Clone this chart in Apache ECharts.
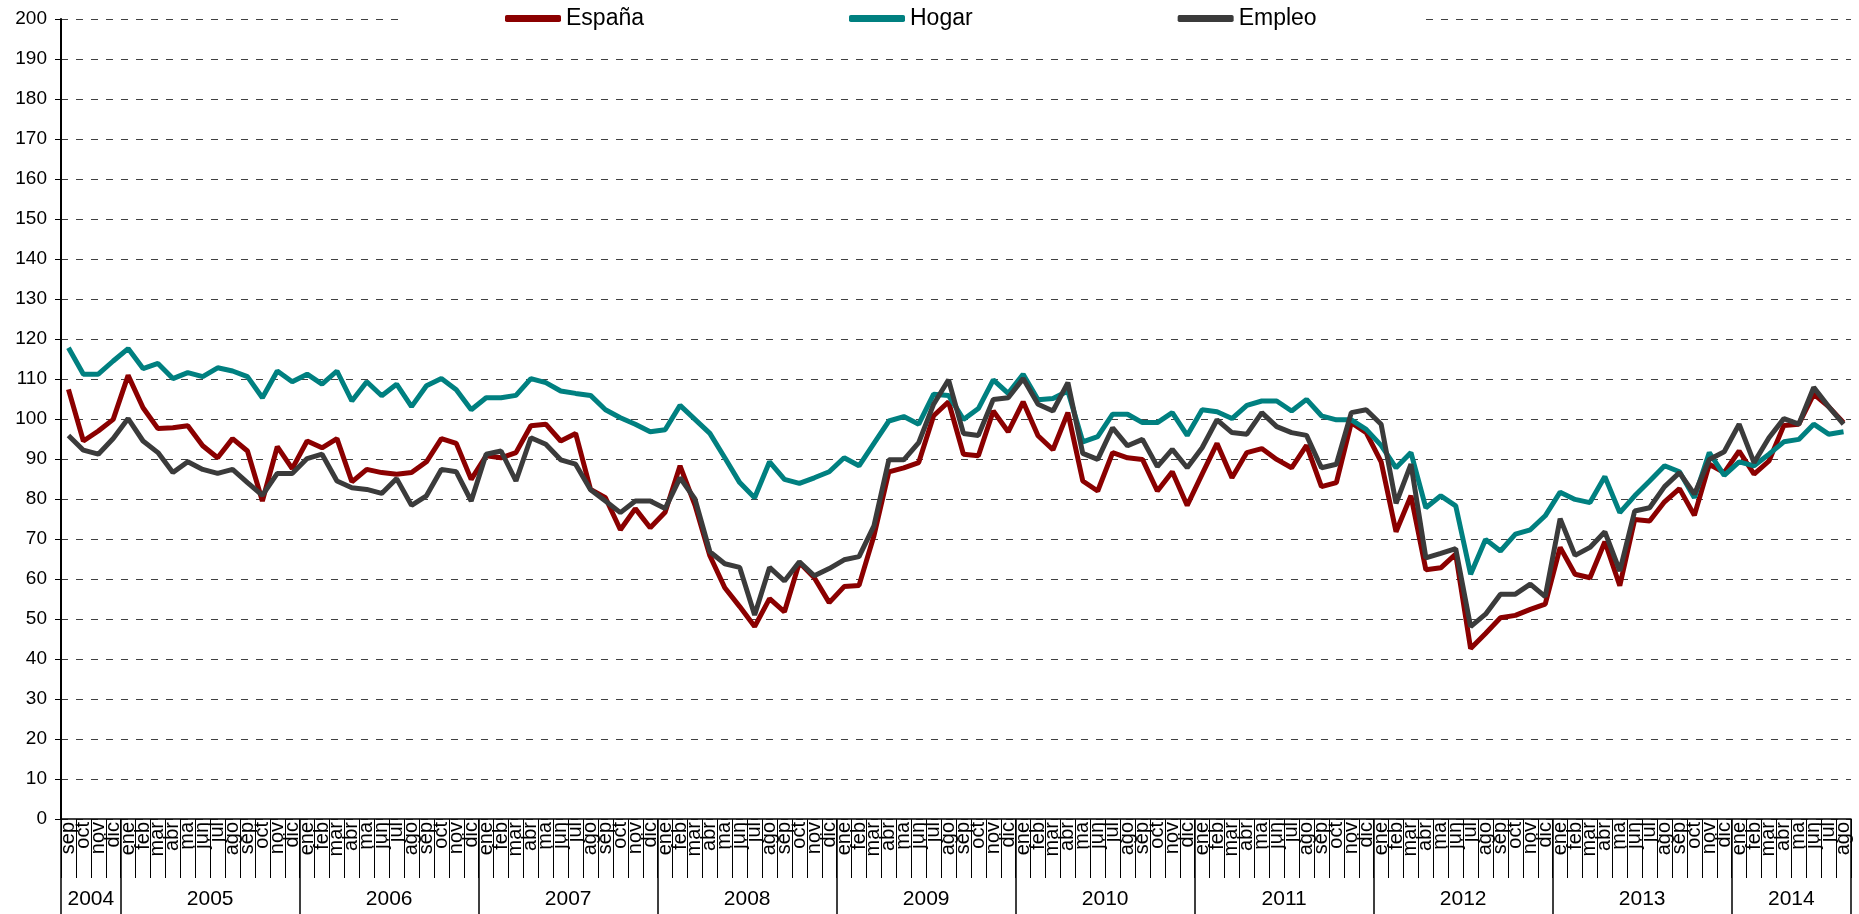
<!DOCTYPE html>
<html>
<head>
<meta charset="utf-8">
<script src="https://cdn.jsdelivr.net/npm/echarts@6/dist/echarts.min.js"></script>
<style>
html,body{margin:0;padding:0;background:#fff;}
#chart{width:1859px;height:914px;}
</style>
</head>
<body>
<div id="chart"></div>
<script>
// Month tick labels (sep 2004 - ago 2014)
const monthLabels = [
 'sep','oct','nov','dic',
 'ene','feb','mar','abr','ma','jun','jul','ago','sep','oct','nov','dic',
 'ene','feb','mar','abr','ma','jun','jul','ago','sep','oct','nov','dic',
 'ene','feb','mar','abr','ma','jun','jul','ago','sep','oct','nov','dic',
 'ene','feb','mar','abr','ma','jun','jul','ago','sep','oct','nov','dic',
 'ene','feb','mar','abr','ma','jun','jul','ago','sep','oct','nov','dic',
 'ene','feb','mar','abr','ma','jun','jul','ago','sep','oct','nov','dic',
 'ene','feb','mar','abr','ma','jun','jul','ago','sep','oct','nov','dic',
 'ene','feb','mar','abr','ma','jun','jul','ago','sep','oct','nov','dic',
 'ene','feb','mar','abr','ma','jun','jul','ago','sep','oct','nov','dic',
 'ene','feb','mar','abr','ma','jun','jul','ago'
];
const yearLabels = ['2004','2005','2006','2007','2008','2009','2010','2011','2012','2013','2014'];
const monthsInYear = [4,12,12,12,12,12,12,12,12,12,8];
const yTicks = {min: 0, max: 200, interval: 10};

const espana = [
 107.4, 94.5, 97.0, 99.9, 110.9, 102.8, 97.6, 97.8, 98.3, 93.3, 90.3, 95.1, 92.0, 79.5, 93.1, 87.6, 94.5, 92.8, 95.1, 84.3,
 87.4, 86.6, 86.2, 86.6, 89.3, 95.1, 93.9, 84.9, 90.8, 90.3, 91.6, 98.3, 98.7, 94.5, 96.4, 82.4, 80.3, 72.3, 77.6, 72.8,
 76.7, 88.3, 78.5, 65.8, 57.8, 53.1, 48.1, 55.1, 51.8, 64.1, 60.3, 54.1, 58.1, 58.4, 70.8, 86.8, 87.8, 89.1, 100.8, 104.3,
 91.2, 90.8, 102.0, 96.8, 104.3, 95.8, 92.3, 101.6, 84.5, 82.0, 91.6, 90.3, 89.9, 82.0, 86.8, 78.4, 86.2, 93.9, 85.3, 91.6,
 92.6, 89.9, 87.8, 93.4, 83.1, 84.1, 99.1, 96.6, 89.3, 71.8, 80.8, 62.3, 62.8, 66.2, 42.6, 46.4, 50.3, 50.9, 52.4, 53.7,
 67.9, 61.2, 60.3, 69.3, 58.3, 74.9, 74.5, 79.3, 82.6, 75.9, 88.7, 86.6, 92.0, 86.2, 89.5, 98.4, 98.7, 106.2, 103.1, 99.1
];
const hogar = [
 117.8, 111.2, 111.2, 114.5, 117.6, 112.6, 113.9, 110.1, 111.6, 110.6, 112.8, 112.0, 110.6, 105.3, 112.0, 109.3, 111.2, 108.7, 112.0, 104.5,
 109.3, 105.8, 108.7, 103.1, 108.3, 110.1, 107.3, 102.3, 105.3, 105.3, 105.9, 110.1, 109.1, 107.0, 106.4, 105.9, 102.3, 100.3, 98.7, 96.8,
 97.3, 103.4, 99.9, 96.4, 90.3, 84.1, 80.3, 89.3, 84.9, 83.9, 85.3, 86.8, 90.3, 88.3, 93.9, 99.5, 100.6, 98.7, 106.2, 105.9,
 99.9, 102.6, 109.8, 106.4, 111.2, 104.8, 105.1, 107.0, 94.3, 95.6, 101.2, 101.2, 99.1, 99.1, 101.6, 95.9, 102.3, 101.8, 100.1, 103.4,
 104.5, 104.5, 102.0, 104.9, 100.8, 99.8, 99.8, 97.4, 93.4, 87.8, 91.6, 77.8, 80.8, 78.3, 61.2, 69.9, 67.0, 71.2, 72.3, 75.8,
 81.7, 79.9, 79.1, 85.6, 76.6, 80.8, 84.5, 88.3, 86.8, 80.3, 91.6, 85.9, 89.3, 88.3, 91.2, 94.3, 94.9, 98.7, 96.2, 96.8
];
const empleo = [
 95.9, 92.2, 91.2, 95.1, 100.1, 94.5, 91.6, 86.6, 89.3, 87.4, 86.4, 87.4, 84.1, 80.9, 86.4, 86.4, 90.1, 91.2, 84.5, 82.8,
 82.4, 81.4, 85.1, 78.4, 80.8, 87.4, 86.8, 79.5, 91.2, 92.0, 84.5, 95.3, 93.7, 89.8, 88.7, 82.3, 79.5, 76.6, 79.5, 79.5,
 77.6, 85.3, 80.0, 66.8, 63.8, 62.9, 51.0, 62.9, 59.5, 64.3, 60.8, 62.6, 64.8, 65.6, 73.3, 89.8, 89.8, 94.1, 103.7, 109.8,
 96.4, 95.9, 104.9, 105.3, 110.1, 103.7, 102.0, 109.1, 91.4, 89.9, 97.8, 93.3, 94.9, 88.1, 92.4, 87.8, 92.8, 99.8, 96.6, 96.2,
 101.6, 98.1, 96.6, 95.9, 87.8, 88.7, 101.6, 102.3, 98.7, 78.9, 88.7, 65.3, 66.4, 67.6, 48.1, 51.2, 56.2, 56.2, 58.7, 55.6,
 75.1, 65.9, 67.9, 71.8, 62.0, 77.0, 77.8, 83.1, 86.6, 81.2, 89.9, 91.8, 98.7, 89.1, 95.3, 100.1, 98.7, 107.9, 103.1, 98.7
];

// Year group boundaries and centres derived from the month counts
const yearBounds = [0];
monthsInYear.forEach(n => yearBounds.push(yearBounds[yearBounds.length - 1] + n));
const yearMids = monthsInYear.map((n, i) => yearBounds[i] + n / 2);

const FONT = '"Liberation Sans", Arial, sans-serif';
const chart = echarts.init(document.getElementById('chart'), null, {renderer: 'canvas'});
chart.setOption({
  animation: false,
  backgroundColor: '#fff',
  color: ['#8b0000', '#008080', '#3b3b3b'],
  legend: {
    data: ['España', 'Hogar', 'Empleo'],
    left: 403,
    top: 0,
    padding: [7, 104, 7, 102],
    itemGap: 205,
    itemWidth: 56,
    itemHeight: 7,
    icon: 'roundRect',
    backgroundColor: '#fff',
    textStyle: {fontFamily: FONT, fontSize: 23, color: '#000'}
  },
  grid: {left: 61, right: 8, top: 19, bottom: 95, containLabel: false},
  xAxis: [
    {
      type: 'category',
      data: monthLabels,
      boundaryGap: true,
      axisLine: {show: true, lineStyle: {color: '#000', width: 1.5}},
      axisTick: {show: true, interval: 0, length: 59, lineStyle: {color: '#000', width: 1}},
      axisLabel: {interval: 0, rotate: 90, margin: 3, fontFamily: FONT, fontSize: 20, color: '#000'},
      splitLine: {show: false}
    },
    {
      type: 'value',
      position: 'bottom',
      min: 0,
      max: monthLabels.length,
      axisLine: {show: false},
      splitLine: {show: false},
      axisTick: {show: true, customValues: yearBounds, length: 95, lineStyle: {color: '#000', width: 1.5}},
      axisLabel: {
        customValues: yearMids,
        margin: 70,
        fontFamily: FONT, fontSize: 21, color: '#000',
        formatter: v => {
          const i = yearMids.indexOf(v);
          return i >= 0 ? yearLabels[i] : '';
        }
      }
    }
  ],
  yAxis: {
    type: 'value',
    min: yTicks.min,
    max: yTicks.max,
    interval: yTicks.interval,
    axisLine: {show: true, lineStyle: {color: '#000', width: 2}},
    axisTick: {show: true, length: 6, lineStyle: {color: '#000', width: 1}},
    axisLabel: {margin: 14, fontFamily: FONT, fontSize: 19, color: '#000'},
    splitLine: {show: true, lineStyle: {color: '#404040', width: 1, type: [7, 8]}}
  },
  series: [
    {name: 'España', type: 'line', data: espana, symbol: 'none', lineStyle: {width: 5, color: '#8b0000'}, itemStyle: {color: '#8b0000'}},
    {name: 'Hogar', type: 'line', data: hogar, symbol: 'none', lineStyle: {width: 5, color: '#008080'}, itemStyle: {color: '#008080'}},
    {name: 'Empleo', type: 'line', data: empleo, symbol: 'none', lineStyle: {width: 5, color: '#3b3b3b'}, itemStyle: {color: '#3b3b3b'}}
  ]
});
</script>
</body>
</html>
